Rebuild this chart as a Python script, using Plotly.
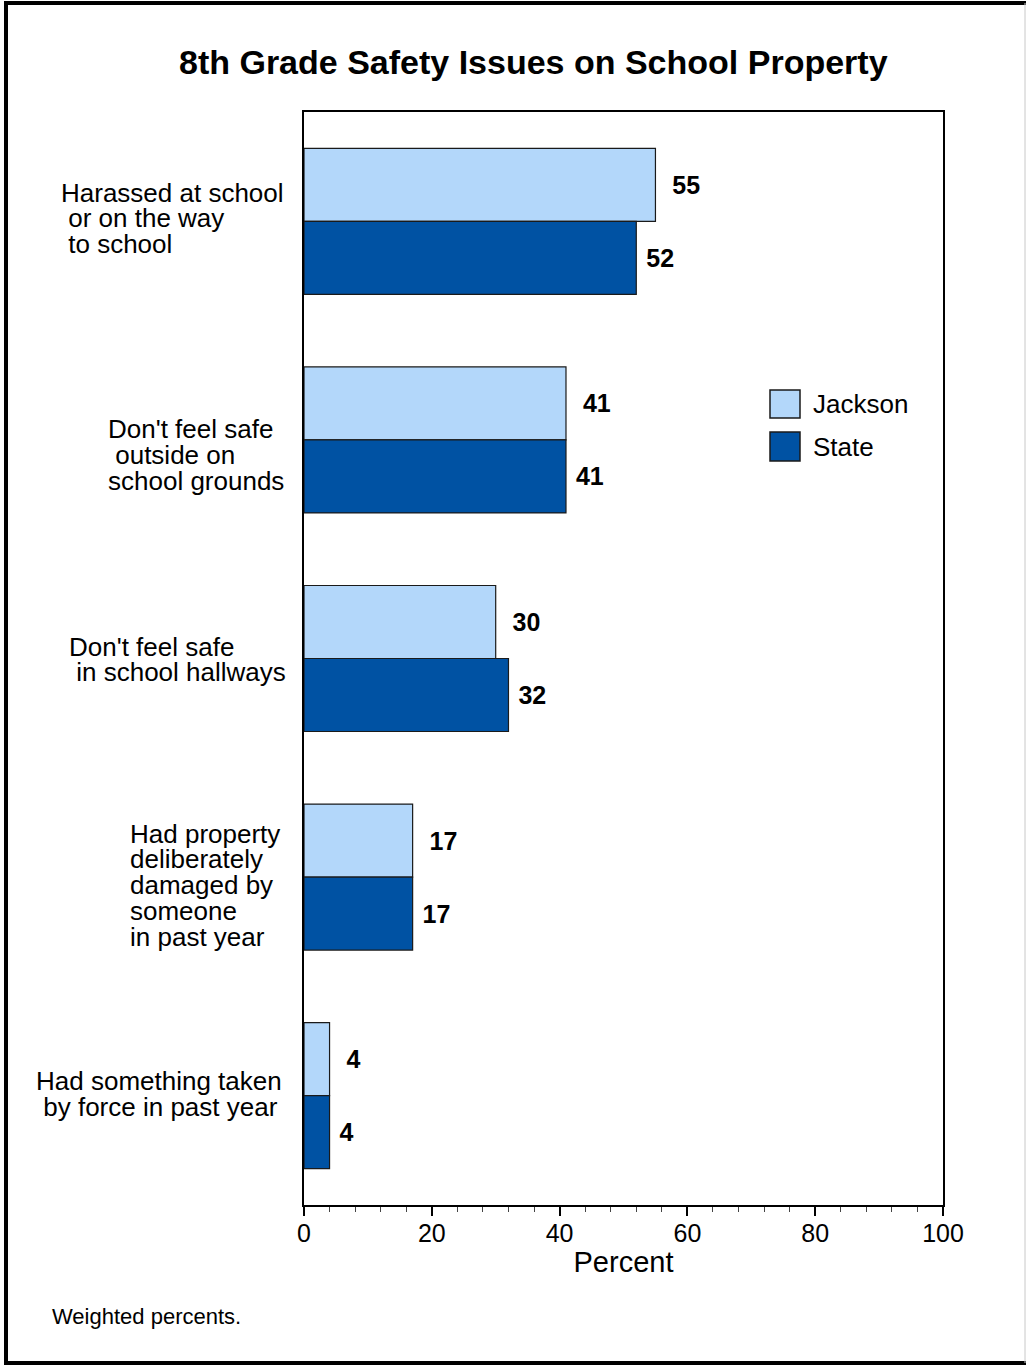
import plotly.graph_objects as go

# ---------------- data ----------------
categories = [
    "Harassed at school\n or on the way\n to school",
    "Don't feel safe\n outside on\nschool grounds",
    "Don't feel safe\n in school hallways",
    "Had property\ndeliberately\ndamaged by\nsomeone\nin past year",
    "Had something taken\n by force in past year",
]
jackson = [55, 41, 30, 17, 4]
state = [52, 41, 32, 17, 4]
series_names = ["Jackson", "State"]
x_ticks = [0, 20, 40, 60, 80, 100]

# ---------------- styles / layout constants ----------------
W, H = 1026, 1366
PL, PR, PT, PB = 304, 943, 112, 1205   # plot area in pixels
FONT = "Arial, Liberation Sans, sans-serif"
C_JACK = "#B3D7FA"
C_STATE = "#0052A3"
label_left_px = [60, 107, 68, 129, 35]      # left edge of label block
label_mid_shift = [-3, 15, 1, 8, -2]        # block centre offset vs category (px, down)
LINE_STEP = 25.8

def px_x(px):
    return (px - PL) / (PR - PL)

def px_y(py):
    return (PB - py) / (PB - PT)

fig = go.Figure()
fig.add_trace(go.Bar(
    y=categories, x=jackson, orientation="h", name=series_names[0],
    marker=dict(color=C_JACK, line=dict(color="#1a1a1a", width=1.2)),
    text=["<b>\u00a0\u00a0" + str(v) + "</b>" for v in jackson], textposition="outside",
    textfont=dict(family=FONT, size=25, color="black"), constraintext="none",
    cliponaxis=False, showlegend=False,
))
fig.add_trace(go.Bar(
    y=categories, x=state, orientation="h", name=series_names[1],
    marker=dict(color=C_STATE, line=dict(color="#1a1a1a", width=1.2)),
    text=["<b>\u00a0" + str(v) + "</b>" for v in state], textposition="outside",
    textfont=dict(family=FONT, size=25, color="black"), constraintext="none",
    cliponaxis=False, showlegend=False,
))

annotations = []
# category labels, one annotation per line for tight line spacing
for i, cat in enumerate(categories):
    lines = cat.split("\n")
    n = len(lines)
    for j, ln in enumerate(lines):
        txt = ("\u00a0" + ln[1:]) if ln.startswith(" ") else ln
        off = (j - (n - 1) / 2) * LINE_STEP + label_mid_shift[i]
        annotations.append(dict(
            x=px_x(label_left_px[i]), xref="paper", xanchor="left",
            y=cat, yref="y", yanchor="middle", yshift=-off,
            text=txt, showarrow=False, align="left", borderpad=0,
            font=dict(family=FONT, size=26, color="black"),
        ))

# title
annotations.append(dict(
    x=px_x(533), y=px_y(62), xref="paper", yref="paper",
    xanchor="center", yanchor="middle", showarrow=False,
    text="<b>8th Grade Safety Issues on School Property</b>",
    font=dict(family=FONT, size=34, color="black"),
))
# footnote
annotations.append(dict(
    x=px_x(50), y=px_y(1316), xref="paper", yref="paper",
    xanchor="left", yanchor="middle", showarrow=False,
    text="Weighted percents.", font=dict(family=FONT, size=22, color="black"),
))

shapes = []
# manual legend
leg_boxes = [(390, 418, C_JACK), (432, 461, C_STATE)]
for (y0, y1, col), name in zip(leg_boxes, series_names):
    shapes.append(dict(type="rect", xref="paper", yref="paper",
                       x0=px_x(770), x1=px_x(800), y0=px_y(y1), y1=px_y(y0),
                       fillcolor=col, line=dict(color="#1a1a1a", width=1.5)))
    annotations.append(dict(
        x=px_x(811), y=px_y((y0 + y1) / 2), xref="paper", yref="paper",
        xanchor="left", yanchor="middle", showarrow=False, text=name,
        font=dict(family=FONT, size=26, color="black")))

# page frame
shapes += [
    dict(type="line", xref="paper", yref="paper", x0=px_x(6), x1=px_x(6),
         y0=px_y(2), y1=px_y(1364), line=dict(color="black", width=4)),
    dict(type="line", xref="paper", yref="paper", x0=px_x(4), x1=px_x(1026),
         y0=px_y(3), y1=px_y(3), line=dict(color="black", width=4)),
    dict(type="line", xref="paper", yref="paper", x0=px_x(4), x1=px_x(1026),
         y0=px_y(1363), y1=px_y(1363), line=dict(color="black", width=4)),
    dict(type="line", xref="paper", yref="paper", x0=px_x(1025), x1=px_x(1025),
         y0=px_y(3), y1=px_y(1363), line=dict(color="#c8c8c8", width=1)),
]

fig.update_layout(
    width=W, height=H,
    margin=dict(l=PL, r=W - PR, t=PT, b=H - PB, pad=0),
    paper_bgcolor="white", plot_bgcolor="white",
    barmode="group", bargap=0.332, bargroupgap=0,
    showlegend=False,
    annotations=annotations, shapes=shapes,
    font=dict(family=FONT, color="black"),
)
fig.update_xaxes(
    range=[0, 100], tickvals=x_ticks, ticktext=[str(t) for t in x_ticks],
    ticks="outside", ticklen=9, tickwidth=1.5, tickcolor="black",
    minor=dict(dtick=4, ticks="outside", ticklen=5, tickwidth=1.2, tickcolor="#444", showgrid=False),
    showgrid=False, zeroline=False,
    showline=True, linecolor="black", linewidth=2, mirror=True,
    tickfont=dict(family=FONT, size=25, color="black"),
    ticklabelstandoff=-4,
    title=dict(text="Percent", font=dict(family=FONT, size=29, color="black"), standoff=6),
)
fig.update_yaxes(
    autorange="reversed", showticklabels=False, ticks="",
    showgrid=False, zeroline=False,
    showline=True, linecolor="black", linewidth=2, mirror=True,
)

fig.write_html(
    "out.html",
    config={"displayModeBar": False},
    post_script="document.body.style.margin='0';document.body.style.overflow='hidden';",
)
